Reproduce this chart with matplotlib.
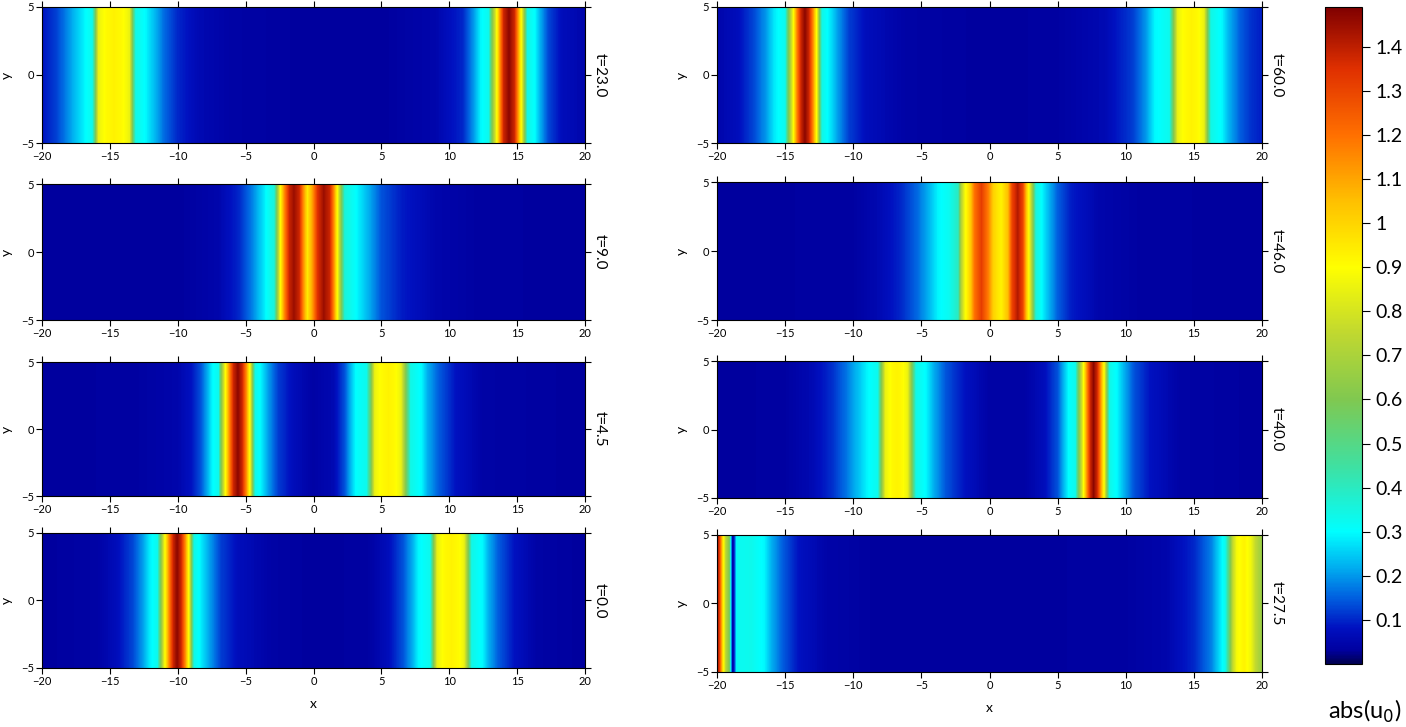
import numpy as np
import matplotlib
matplotlib.use('Agg')
import matplotlib.pyplot as plt
from matplotlib.colors import LinearSegmentedColormap, Normalize
from matplotlib.cm import ScalarMappable

plt.rcParams['font.family'] = ['Lato', 'DejaVu Sans']

# abs(u0) read along x at a few points (field does not change with y)
x_t230 = [-20, -19, -18.2, -17.5, -16.9, -16.3, -16.1, -15.85, -15.3, -14.7, -14.1, -13.55, -13.3, -13.1,
          -12.3, -11.6, -11, -10, -8.5, -6, 0, 5, 9, 11, 11.8, 12.3, 12.9, 13.1, 13.45, 13.75, 14.0,
          14.4, 14.8, 15.05, 15.35, 15.6, 15.75, 16.3, 16.7, 17.3, 18.3, 20]
u_t230 = [0.08, 0.12, 0.18, 0.24, 0.29, 0.33, 0.55, 0.85, 0.91, 0.93, 0.91, 0.85, 0.55, 0.34,
          0.29, 0.22, 0.16, 0.1, 0.06, 0.04, 0.03, 0.03, 0.05, 0.1, 0.2, 0.29, 0.33, 0.55, 0.85, 1.15, 1.38,
          1.47, 1.38, 1.15, 0.85, 0.55, 0.34, 0.3, 0.22, 0.13, 0.07, 0.05]

x_t90 = [-20, -10, -7, -5.5, -4.5, -3.8, -3.4, -2.9, -2.7, -2.45, -2.15, -1.8, -1.45, -1.05, -0.75,
         -0.45, -0.1, 0.3, 0.75, 1.2, 1.5, 1.8, 2.05, 2.3, 3.0, 3.5, 4.3, 5.0, 6.5, 9, 12, 20]
u_t90 = [0.03, 0.03, 0.05, 0.1, 0.18, 0.26, 0.31, 0.36, 0.6, 0.9, 1.15, 1.38, 1.45, 1.38, 1.15,
         0.95, 1.1, 1.35, 1.45, 1.38, 1.15, 0.85, 0.6, 0.36, 0.31, 0.27, 0.2, 0.14, 0.09, 0.05, 0.035, 0.03]

x_t45 = [-20, -13, -10, -9, -8.3, -7.8, -7.5, -7.0, -6.85, -6.55, -6.2, -5.9, -5.57, -5.25, -4.95,
         -4.65, -4.45, -4.3, -3.8, -3.3, -2.6, -1.5, 0, 1.5, 2.3, 2.8, 3.1, 3.9, 4.2, 4.5, 5.0, 5.5,
         6.0, 6.45, 6.8, 7.15, 8.0, 8.4, 9.2, 10.5, 12.5, 20]
u_t45 = [0.03, 0.035, 0.05, 0.08, 0.14, 0.22, 0.29, 0.33, 0.55, 0.85, 1.15, 1.38, 1.47, 1.38, 1.15,
         0.85, 0.55, 0.34, 0.28, 0.2, 0.12, 0.07, 0.04, 0.06, 0.14, 0.24, 0.3, 0.33, 0.55, 0.85, 0.91, 0.93,
         0.91, 0.85, 0.6, 0.34, 0.29, 0.22, 0.15, 0.08, 0.04, 0.03]

x_t00 = [-20, -16, -14.5, -13.3, -12.6, -12.1, -11.5, -11.3, -11.0, -10.65, -10.35, -10.05, -9.75,
         -9.45, -9.15, -8.95, -8.8, -8.25, -7.6, -6.8, -5.5, -3, 0, 4, 5.5, 6.6, 7.3, 7.7, 8.6, 8.8,
         9.1, 9.6, 10.15, 10.7, 11.1, 11.4, 11.65, 12.5, 12.9, 13.6, 14.8, 16.5, 20]
u_t00 = [0.03, 0.04, 0.07, 0.13, 0.2, 0.28, 0.33, 0.55, 0.85, 1.15, 1.38, 1.47, 1.38,
         1.15, 0.85, 0.55, 0.34, 0.28, 0.2, 0.12, 0.07, 0.04, 0.03, 0.035, 0.07, 0.14, 0.22, 0.29, 0.33, 0.55,
         0.85, 0.91, 0.93, 0.91, 0.85, 0.6, 0.34, 0.29, 0.22, 0.15, 0.08, 0.04, 0.03]

x_t600 = [-20, -18.5, -17.3, -16.4, -15.8, -15.0, -14.8, -14.45, -14.15, -13.85, -13.55, -13.25,
          -12.95, -12.65, -12.45, -12.3, -11.7, -11.1, -10.3, -9, -6, 0, 5, 8.5, 10.5, 11.5, 12.1,
          13.2, 13.45, 13.8, 14.3, 14.8, 15.3, 15.75, 16.0, 16.25, 17.1, 17.6, 18.4, 19.2, 20]
u_t600 = [0.05, 0.07, 0.13, 0.2, 0.28, 0.33, 0.55, 0.85, 1.15, 1.38, 1.47, 1.38,
          1.15, 0.85, 0.55, 0.34, 0.28, 0.2, 0.12, 0.07, 0.04, 0.03, 0.035, 0.06, 0.12, 0.2, 0.29,
          0.33, 0.55, 0.85, 0.91, 0.93, 0.91, 0.85, 0.6, 0.34, 0.29, 0.22, 0.15, 0.11, 0.09]

x_t460 = [-20, -10, -8, -6.5, -5.3, -4.5, -3.8, -3.0, -2.3, -2.1, -1.8, -1.4, -1.1, -0.6, -0.1,
          0.3, 0.85, 1.35, 1.65, 2.07, 2.45, 2.7, 3.0, 3.2, 3.4, 3.9, 4.4, 5.0, 6, 8, 11, 20]
u_t460 = [0.03, 0.035, 0.06, 0.1, 0.16, 0.22, 0.29, 0.32, 0.4, 0.7, 0.88, 1.02, 1.2, 1.32, 1.18,
          1.0, 0.93, 1.05, 1.3, 1.42, 1.3, 1.05, 0.8, 0.6, 0.36, 0.29, 0.22, 0.15, 0.09, 0.05, 0.035, 0.03]

x_t400 = [-20, -15, -13, -11.5, -10.5, -9.6, -9.0, -8.2, -8.0, -7.65, -7.2, -6.8, -6.4, -6.0, -5.7,
          -5.4, -4.6, -4.1, -3.2, -1.8, 0, 2.5, 4, 5, 5.5, 5.8, 6.3, 6.5, 6.85, 7.15, 7.4, 7.63, 7.9,
          8.15, 8.45, 8.65, 8.8, 9.4, 9.9, 10.6, 11.8, 14, 20]
u_t400 = [0.03, 0.035, 0.06, 0.11, 0.17, 0.24, 0.29, 0.33, 0.55, 0.85, 0.91, 0.93, 0.91, 0.85, 0.6,
          0.34, 0.29, 0.22, 0.14, 0.08, 0.04, 0.04, 0.07, 0.14, 0.24, 0.3, 0.33, 0.55, 0.85, 1.15, 1.38, 1.47, 1.38,
          1.15, 0.85, 0.55, 0.34, 0.29, 0.22, 0.14, 0.08, 0.04, 0.03]

x_t275 = [-20, -19.8, -19.6, -19.35, -19.1, -18.95, -18.85, -18.72, -18.55, -17.5, -16.5, -16.0, -15.2,
          -14, -12, -8, 0, 10, 13, 15, 16.3, 16.9, 17.3, 17.55, 17.85, 18.15, 18.7, 19.2, 19.5, 20]
u_t275 = [1.47, 1.3, 1.0, 0.72, 0.6, 0.2, 0.02, 0.12, 0.32, 0.33, 0.29, 0.22, 0.15,
          0.08, 0.045, 0.03, 0.03, 0.035, 0.05, 0.1, 0.18, 0.27, 0.33, 0.5, 0.75, 0.88, 0.93, 0.86, 0.76, 0.65]

left_col = [("t=23.0", x_t230, u_t230), ("t=9.0", x_t90, u_t90),
            ("t=4.5", x_t45, u_t45), ("t=0.0", x_t00, u_t00)]
right_col = [("t=60.0", x_t600, u_t600), ("t=46.0", x_t460, u_t460),
             ("t=40.0", x_t400, u_t400), ("t=27.5", x_t275, u_t275)]

vmax = 1.49
cmap_vals = [0.0, 0.03, 0.08, 0.15, 0.22, 0.30, 0.45, 0.60, 0.75, 0.90, 1.05, 1.20, 1.35, 1.49]
cmap_cols = ['#000050', '#0000a0', '#0010c0', '#0060e0', '#00b0f0', '#00ffff', '#40e0a0',
             '#80c850', '#c0d830', '#ffff00', '#ffc000', '#ff7000', '#e03000', '#800000']
cmap = LinearSegmentedColormap.from_list('absu', list(zip([v / vmax for v in cmap_vals], cmap_cols)), N=512)
norm = Normalize(0, vmax)
levels = np.linspace(0, vmax, 500)

fig = plt.figure(figsize=(14.06, 7.27), dpi=100)

# [left, bottom, width, height] in figure fractions
left_boxes = [[0.0299, 0.8033, 0.3862, 0.1871], [0.0299, 0.5598, 0.3862, 0.1871],
              [0.0299, 0.3177, 0.3862, 0.1843], [0.0299, 0.0812, 0.3862, 0.1857]]
right_boxes = [[0.5100, 0.8033, 0.3876, 0.1871], [0.5100, 0.5598, 0.3876, 0.1898],
               [0.5100, 0.3150, 0.3876, 0.1884], [0.5100, 0.0757, 0.3876, 0.1884]]

for col, boxes in [(left_col, left_boxes), (right_col, right_boxes)]:
    for i, ((lab, xs, us), box) in enumerate(zip(col, boxes)):
        ax = fig.add_axes(box)
        X, Y = np.meshgrid(xs, [-5, 5])
        Z = np.vstack([us, us])
        ax.contourf(X, Y, Z, levels=levels, cmap=cmap, norm=norm, extend='both', antialiased=False)
        ax.set_xlim(-20, 20)
        ax.set_ylim(-5, 5)
        ax.set_xticks(range(-20, 21, 5))
        ax.set_yticks([-5, 0, 5])
        ax.tick_params(direction='out', length=4, width=0.8, labelsize=8, pad=2,
                       top=True, right=True, colors='black')
        ax.set_ylabel('y', fontsize=10, labelpad=6)
        ax.text(1.015, 0.5, lab, transform=ax.transAxes, rotation=-90,
                va='center', ha='left', fontsize=11)
        if i == 3:
            ax.set_xlabel('x', fontsize=10, labelpad=8)

cax = fig.add_axes([0.9424, 0.0867, 0.0263, 0.9037])
sm = ScalarMappable(norm=norm, cmap=cmap)
cb = fig.colorbar(sm, cax=cax, ticks=[0.1, 0.2, 0.3, 0.4, 0.5, 0.6, 0.7, 0.8, 0.9, 1.0, 1.1, 1.2, 1.3, 1.4],
                  format='%g')
cb.ax.tick_params(labelsize=14, length=6, width=0.8)
cb.outline.set_linewidth(0.8)
fig.text(0.9445, 0.022, 'abs(u$_0$)', fontsize=17, ha='left', va='center')

fig.savefig('out.png', dpi=100)
